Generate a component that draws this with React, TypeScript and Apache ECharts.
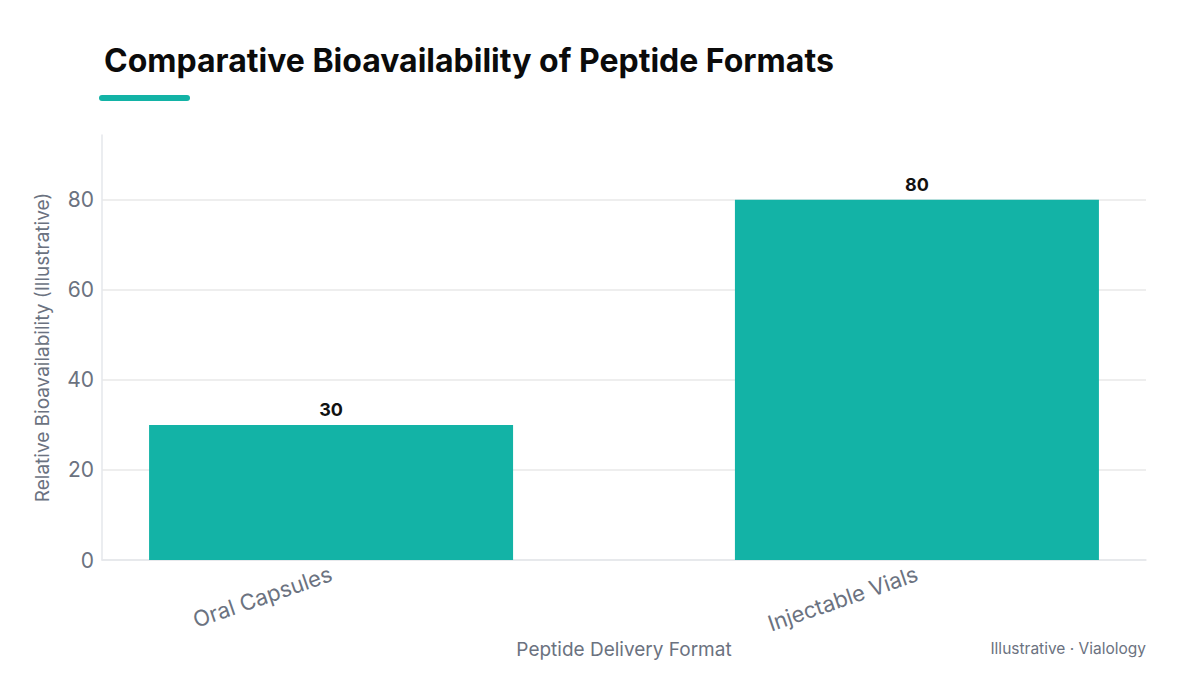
import React, { useEffect, useRef } from "react";
import * as echarts from "echarts";

const categories = ["Oral Capsules", "Injectable Vials"];
const bioavailability = [30, 80];
const yTicks = [0, 20, 40, 60, 80];

const TEAL = "#13B3A6";
const GRAY_TEXT = "#6B7280";
const FONT = "Inter, 'Noto Sans', sans-serif";

// horizontal padding around the two category slots, in category units
const X_PAD = 0.391;

export default function App() {
  const ref = useRef<HTMLDivElement>(null);

  useEffect(() => {
    if (!ref.current) return;
    const chart = echarts.init(ref.current, undefined, { renderer: "svg" });
    const yMax = 94.4;
    const positions = categories.map((_, i) => i);
    chart.setOption({
      animation: false,
      backgroundColor: "#ffffff",
      textStyle: { fontFamily: FONT },
      title: {
        text: "Comparative Bioavailability of Peptide Formats",
        left: 99,
        top: 39,
        textStyle: { fontFamily: FONT, fontSize: 32, fontWeight: "bold", color: "#0b0b0b" },
      },
      graphic: [
        {
          type: "rect",
          shape: { x: 99, y: 95, width: 91, height: 6, r: 3 },
          style: { fill: TEAL },
        },
        {
          type: "text",
          right: 54,
          top: 640,
          style: {
            text: "Illustrative · Vialology",
            fill: GRAY_TEXT,
            font: `15.5px ${FONT}`,
          },
        },
      ],
      grid: { left: 102, right: 54, top: 135, bottom: 115 },
      xAxis: {
        type: "value",
        min: -X_PAD,
        max: categories.length - 1 + X_PAD,
        splitLine: { show: false },
        axisLine: { show: true, onZero: false, lineStyle: { color: "#E5E7EB", width: 1.5 } },
        axisTick: { show: false },
        axisLabel: {
          customValues: positions,
          formatter: (v: number) => categories[Math.round(v)] ?? "",
          rotate: 19,
          margin: 13,
          fontFamily: FONT,
          fontSize: 22,
          color: GRAY_TEXT,
        },
        name: "Peptide Delivery Format",
        nameLocation: "middle",
        nameGap: 78,
        nameTextStyle: { fontFamily: FONT, fontSize: 19, color: GRAY_TEXT },
      },
      yAxis: {
        type: "value",
        min: 0,
        max: yMax,
        interval: 20,
        axisLine: { show: true, onZero: false, lineStyle: { color: "#E5E7EB", width: 1.5 } },
        axisTick: { show: false },
        splitLine: { showMaxLine: false, lineStyle: { color: "#E8E8E8", width: 1.5 } },
        axisLabel: {
          fontFamily: FONT,
          fontSize: 21,
          color: GRAY_TEXT,
          margin: 8,
          formatter: (v: number) => (yTicks.includes(v) ? String(v) : ""),
        },
        name: "Relative Bioavailability (Illustrative)",
        nameLocation: "middle",
        nameGap: 50,
        nameTextStyle: { fontFamily: FONT, fontSize: 19, color: GRAY_TEXT },
      },
      series: [
        {
          type: "bar",
          data: bioavailability.map((v, i) => [positions[i], v]),
          barWidth: 364,
          itemStyle: { color: TEAL },
          label: {
            show: true,
            position: "top",
            distance: 6,
            fontFamily: FONT,
            fontSize: 18,
            fontWeight: "bold",
            color: "#111111",
            formatter: (p: any) => String(p.value[1]),
          },
        },
      ],
    });
    return () => chart.dispose();
  }, []);

  return (
    <div
      ref={ref}
      style={{ position: "fixed", left: 0, top: 0, width: 1200, height: 675 }}
    />
  );
}
